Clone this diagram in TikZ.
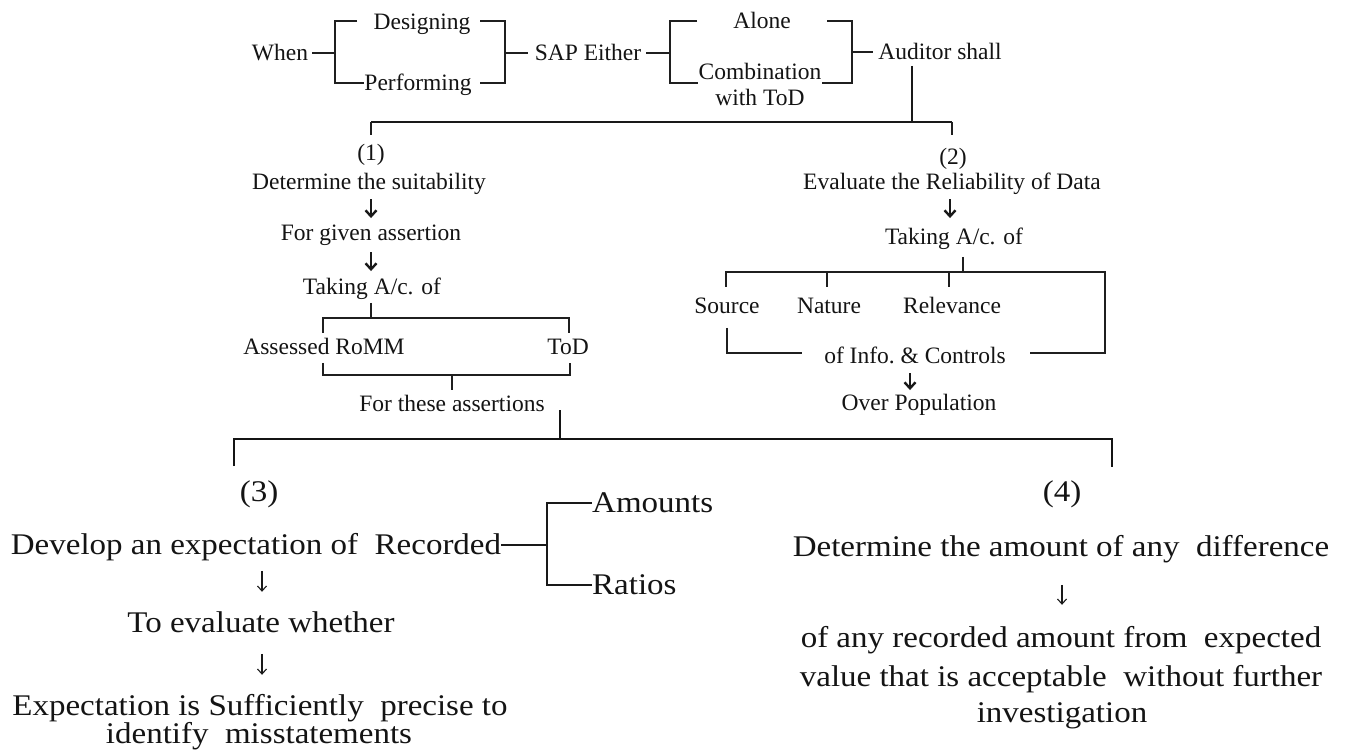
\documentclass[tikz,border=0pt]{standalone}
\usepackage{fontspec}
\setmainfont{Liberation Serif}
\newfontfamily\wideserif{Liberation Serif}[FakeStretch=1.1]
\usetikzlibrary{arrows.meta,calc}
\begin{document}
\begin{tikzpicture}[x=1pt,y=-1pt,
  lbl/.style={inner sep=0pt, text=black!92},
  sm/.style={lbl, font=\fontsize{23.5}{26}\selectfont, text height=18.8pt, text depth=4.7pt},
  lg/.style={lbl, font=\wideserif\fontsize{30}{33}\selectfont, text height=24pt, text depth=6pt},
  link/.style={line width=1.3pt, draw=black!88},
  midlink/.style={line width=1.9pt, draw=black!90},
  heavy/.style={line width=2.5pt, draw=black!92},
  boldarrow/.style={line width=2.4pt, draw=black!90, -{Straight Barb[length=6pt,width=11pt]}},
  thinarrow/.style={line width=1.1pt, draw=black!90, -{Straight Barb[length=5pt,width=9pt]}}
]
\useasboundingbox (0,0) rectangle (1350,751);
\fill[white] (0,0) rectangle (1350,751);

% ---------- top row ----------
\node[sm] (when)    at (280,53) {When};
\node[sm] (design)  at (422,22) {Designing};
\node[sm] (perform) at (418,83) {Performing};
\node[sm] (sap)     at (588,53) {SAP Either};
\node[sm] (alone)   at (762,21) {Alone};
\node[sm] (comb1)   at (760,72) {Combination};
\node[sm] (comb2)   at (760,98) {with ToD};
\node[sm] (auditor) at (940,52) {Auditor shall};

\coordinate (b1l) at (335,53);
\coordinate (b1r) at (505,53);
\coordinate (b2l) at (670,53);
\coordinate (b2r) at (852,52);

\draw[link] ($(when.east)+(4,0)$) -- (b1l);
\draw[link] (357,21) -- (335,21) -- (335,83) -- (perform.west |- 0,83);
\draw[link] (480,21) -- (505,21) -- (505,83) -- (480,83);
\draw[link] (b1r) -- ($(sap.west)+(-7,0)$);
\draw[link] ($(sap.east)+(5,0)$) -- (b2l);
\draw[link] (697,21) -- (670,21) -- (670,83) -- (comb1.west |- 0,83);
\draw[link] (827,21) -- (852,21) -- (852,83) -- (comb1.east |- 0,83);
\draw[link] (b2r) -- ($(auditor.west)+(-5,0)$);

% ---------- split into (1) and (2) ----------
\coordinate (split) at (912,122);
\draw[midlink] ($(auditor.south)+(-28,2)$) -- (split);
\draw[midlink] (371,122) -- (952,122);
\draw[link] (371,122) -- (371,135);
\draw[link] (952,122) -- (952,135);

% ---------- column (1) ----------
\node[sm] (n1)    at (371,153) {(1)};
\node[sm] (det)   at (369,182) {Determine the suitability};
\node[sm] (given) at (371,233) {For given assertion};
\node[sm] (take1) at (372,287) {Taking A/c. of};
\node[sm] (romm)  at (324,347) {Assessed RoMM};
\node[sm] (tod)   at (568,347) {ToD};
\node[sm] (these) at (452,404) {For these assertions};

\draw[boldarrow] ($(given.north)+(0,-22)$) -- ($(given.north)+(0,-3)$);
\draw[boldarrow] ($(take1.north)+(-1,-23)$) -- ($(take1.north)+(-1,-4)$);

\draw[link] (371,303) -- (371,318);
\draw[link] (323,333) -- (323,318) -- (569,318) -- (569,333);
\draw[link] (323,363) -- (323,375) -- (570,375) -- (570,363);
\draw[link] (452,375) -- (452,390);

% ---------- column (2) ----------
\node[sm] (n2)      at (953,157) {(2)};
\node[sm] (eval)    at (952,182) {Evaluate the Reliability of Data};
\node[sm] (take2)   at (954,237) {Taking A/c. of};
\node[sm] (source)  at (727,306) {Source};
\node[sm] (nature)  at (829,306) {Nature};
\node[sm] (relev)   at (952,306) {Relevance};
\node[sm] (infoc)   at (915,356) {of Info.\ \& Controls};
\node[sm] (overpop) at (919,403) {Over Population};

\draw[boldarrow] ($(take2.north)+(-4,-26)$) -- ($(take2.north)+(-4,-7)$);
\draw[link] (963,257) -- (963,272);
\draw[link] (726,287) -- (726,272) -- (1105,272) -- (1105,353) -- (1030,353);
\draw[link] (827,272) -- (827,287);
\draw[link] (949,272) -- (949,287);
\draw[link] (727,328) -- (727,353) -- (802,353);
\draw[boldarrow] ($(overpop.north)+(-9,-18)$) -- ($(overpop.north)+(-9,-1)$);

% ---------- split into (3) and (4) ----------
\draw[heavy] (560,410) -- (560,439);
\draw[heavy] (234,466) -- (234,439) -- (1112,439) -- (1112,467);

% ---------- column (3) ----------
\node[lg] (n3)       at (259,492) {(3)};
\node[lg] (develop)  at (256,545) {Develop an expectation of~ Recorded};
\node[lg, anchor=west] (amounts) at (592,503) {Amounts};
\node[lg, anchor=west] (ratios)  at (592,585) {Ratios};
\node[lg] (toeval)   at (261,623) {To evaluate whether};
\node[lg] (expect)   at (260,706) {Expectation is Sufficiently~ precise to};
\node[lg] (identify) at (259,734) {identify~ misstatements};

\coordinate (fork) at (547,545);
\draw[midlink] (develop.east) -- (fork);
\draw[midlink] (amounts.west) -| (fork);
\draw[midlink] (ratios.west) -| (fork);
\draw[thinarrow] ($(toeval.north)+(1,-37)$) -- ($(toeval.north)+(1,-16)$);
\draw[thinarrow] ($(expect.north)+(2,-37)$) -- ($(expect.north)+(2,-16)$);

% ---------- column (4) ----------
\node[lg] (n4)   at (1062,492) {(4)};
\node[lg] (diff) at (1061,547) {Determine the amount of any~ difference};
\node[lg] (rec1) at (1061,638) {of any recorded amount from~ expected};
\node[lg] (rec2) at (1061,677) {value that is acceptable~ without further};
\node[lg] (rec3) at (1062,713) {investigation};

\draw[thinarrow] ($(rec1.north)+(1,-38)$) -- ($(rec1.north)+(1,-18)$);
\end{tikzpicture}
\end{document}
